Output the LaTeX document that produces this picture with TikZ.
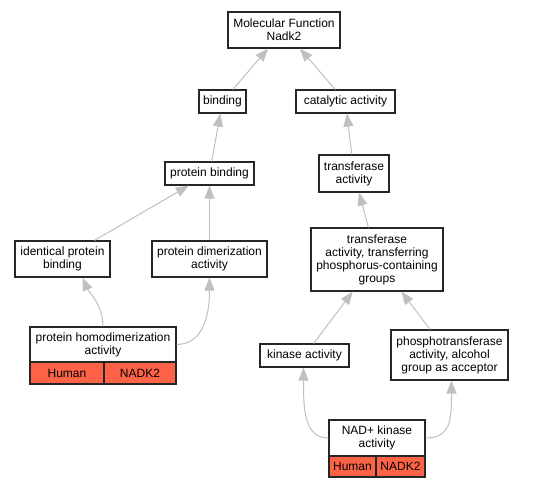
\documentclass[tikz,border=0pt]{standalone}
\usepackage{fontspec}
\setmainfont{Liberation Sans}
\usetikzlibrary{arrows.meta}
\definecolor{edgegray}{RGB}{192,192,192}
\definecolor{cellred}{RGB}{255,99,71}
\tikzset{
  gobox/.style={draw=black!85, line width=1.1pt, fill=white, inner sep=0pt, align=center,
    font=\fontsize{12}{13}\selectfont},
  cell/.style={gobox, fill=cellred},
  isa/.style={draw=edgegray, line width=1pt, -{Triangle[length=13pt,width=10pt,fill=edgegray]}},
}
\begin{document}
\begin{tikzpicture}[x=1pt,y=-1pt]
\useasboundingbox (0,0) rectangle (557,488);
% nodes
\node[gobox, minimum width=112pt, minimum height=36pt] (mf) at (284,30) {Molecular Function\\Nadk2};
\node[gobox, minimum width=47pt, minimum height=23pt] (bind) at (222.5,101.5) {binding};
\node[gobox, minimum width=99pt, minimum height=23pt] (cat) at (345.5,101.5) {catalytic activity};
\node[gobox, minimum width=89pt, minimum height=23pt] (pb) at (209.5,173.5) {protein binding};
\node[gobox, minimum width=70pt, minimum height=37pt] (ta) at (354,173.5) {transferase\\activity};
\node[gobox, minimum width=132pt, minimum height=63pt] (tp) at (377,259.5) {transferase\\activity, transferring\\phosphorus-containing\\groups};
\node[gobox, minimum width=95pt, minimum height=36pt] (ipb) at (62.5,259) {identical protein\\binding};
\node[gobox, minimum width=115pt, minimum height=36pt] (pda) at (209.5,259) {protein dimerization\\activity};
\node[gobox, minimum width=146pt, minimum height=35pt] (phd) at (103,344.5) {protein homodimerization\\activity};
\node[cell, minimum width=74pt, minimum height=22pt] (phdH) at (67,373) {Human};
\node[cell, minimum width=72pt, minimum height=22pt] (phdN) at (140,373) {NADK2};
\node[gobox, minimum width=89pt, minimum height=23pt] (ka) at (304.5,355.5) {kinase activity};
\node[gobox, minimum width=117pt, minimum height=50pt] (pt) at (449.5,355) {phosphotransferase\\activity, alcohol\\group as acceptor};
\node[gobox, minimum width=96pt, minimum height=36pt] (nad) at (377,438) {NAD+ kinase\\activity};
\node[cell, minimum width=47pt, minimum height=21pt] (nadH) at (352.5,466.5) {Human};
\node[cell, minimum width=49pt, minimum height=21pt] (nadN) at (400.5,466.5) {NADK2};
% edges
\draw[isa] (bind) -- (mf);
\draw[isa] (cat) -- (mf);
\draw[isa] (pb) -- (bind);
\draw[isa] (ta) -- (cat);
\draw[isa] (tp) -- (ta);
\draw[isa] (ipb) -- (pb);
\draw[isa] (pda) -- (pb);
\draw[isa] (ka) -- (tp);
\draw[isa] (pt) -- (tp);
\draw[isa] (phd.north) .. controls +(0,-22) and +(6,14) .. ([xshift=20pt]ipb.south);
\draw[isa] (phd.east) .. controls +(28,0) and +(0,35) .. (pda.south);
\draw[isa] (nad.west) .. controls +(-25,0) and +(0,40) .. ([xshift=-1pt]ka.south);
\draw[isa] (nad.east) .. controls +(25,0) and +(0,40) .. ([xshift=2pt]pt.south);
\end{tikzpicture}
\end{document}
